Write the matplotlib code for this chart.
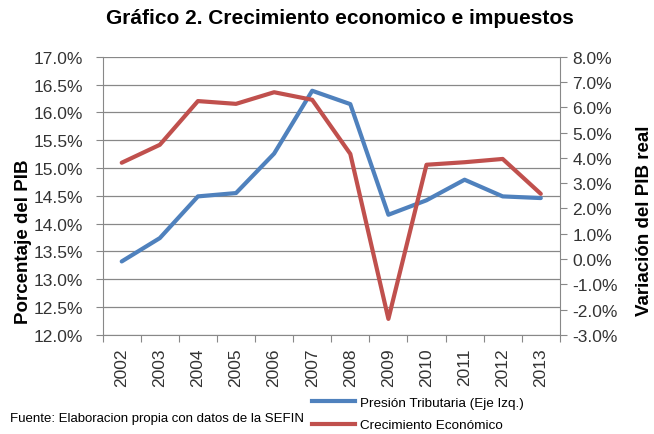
import matplotlib.pyplot as plt
import numpy as np
from matplotlib.lines import Line2D

plt.rcParams['font.family'] = ['Liberation Sans', 'DejaVu Sans']

years = ['2002', '2003', '2004', '2005', '2006', '2007', '2008', '2009', '2010', '2011', '2012', '2013']
presion = [13.32, 13.74, 14.49, 14.55, 15.26, 16.39, 16.15, 14.16, 14.42, 14.79, 14.49, 14.46]
crecimiento = [3.81, 4.52, 6.25, 6.14, 6.60, 6.30, 4.16, -2.37, 3.73, 3.83, 3.96, 2.58]

blue = '#4F81BD'
red = '#C0504D'

fig = plt.figure(figsize=(6.54, 4.35), dpi=100)
ax = fig.add_axes([0.157, 0.228, 0.699, 0.639])
ax2 = ax.twinx()

x = np.arange(len(years))
ax.plot(x, presion, color=blue, lw=3, solid_capstyle='round', solid_joinstyle='round')
ax2.plot(x, crecimiento, color=red, lw=3, solid_capstyle='round', solid_joinstyle='round')

ax.set_xlim(-0.5, len(years) - 0.5)
ax.set_ylim(12, 17)
ax2.set_ylim(-3, 8)
lt = np.arange(12, 17.01, 0.5)
rt = np.arange(-3, 8.01, 1)
ax.set_yticks(lt)
ax2.set_yticks(rt)
ax.set_yticklabels(['%.1f%%' % v for v in lt], fontsize=12.5, color='#333333')
ax2.set_yticklabels(['%.1f%%' % v for v in rt], fontsize=12.5, color='#333333')

ax.set_xticks(np.arange(-0.5, len(years), 1))
ax.set_xticklabels([])
ax.set_xticks(x, minor=True)
ax.set_xticklabels(years, minor=True, rotation=90, fontsize=12.5, color='#333333')
ax.tick_params(axis='x', which='minor', length=0, pad=9)
ax.tick_params(axis='x', which='major', length=5, color='#888888', direction='out')
ax.tick_params(axis='y', length=5, color='#888888', direction='out', pad=9)
ax2.tick_params(axis='y', length=5, color='#888888', direction='out', pad=4)

ax.grid(axis='y', color='#888888', lw=0.9)
ax.set_axisbelow(True)
for a in (ax, ax2):
    a.spines['top'].set_visible(False)
    for s in ('left', 'right', 'bottom'):
        a.spines[s].set_color('#888888')
ax.spines['right'].set_visible(False)
ax2.spines['left'].set_visible(False)
ax2.spines['bottom'].set_visible(False)

ax.set_ylabel('Porcentaje del PIB', fontsize=13.5, fontweight='bold')
ax.yaxis.set_label_coords(-0.155, 0.338)
ax2.set_ylabel('Variación del PIB real', fontsize=13.5, fontweight='bold')
ax2.yaxis.set_label_coords(1.166, 0.414)

fig.text(0.52, 0.958, 'Gráfico 2. Crecimiento economico e impuestos', ha='center', va='center',
         fontsize=15, fontweight='bold')
fig.text(0.015, 0.022, 'Fuente: Elaboracion propia con datos de la SEFIN', fontsize=9.5,
         ha='left', va='bottom')

handles = [Line2D([0], [0], color=blue, lw=3), Line2D([0], [0], color=red, lw=3)]
fig.legend(handles, ['Presión Tributaria (Eje Izq.)', 'Crecimiento Económico'],
           loc='center left', bbox_to_anchor=(0.477, 0.046), frameon=False,
           fontsize=9.7, borderpad=0, borderaxespad=0,
           handlelength=3.2, handletextpad=0.38, labelspacing=0.75)

fig.savefig('out.png', dpi=100)
